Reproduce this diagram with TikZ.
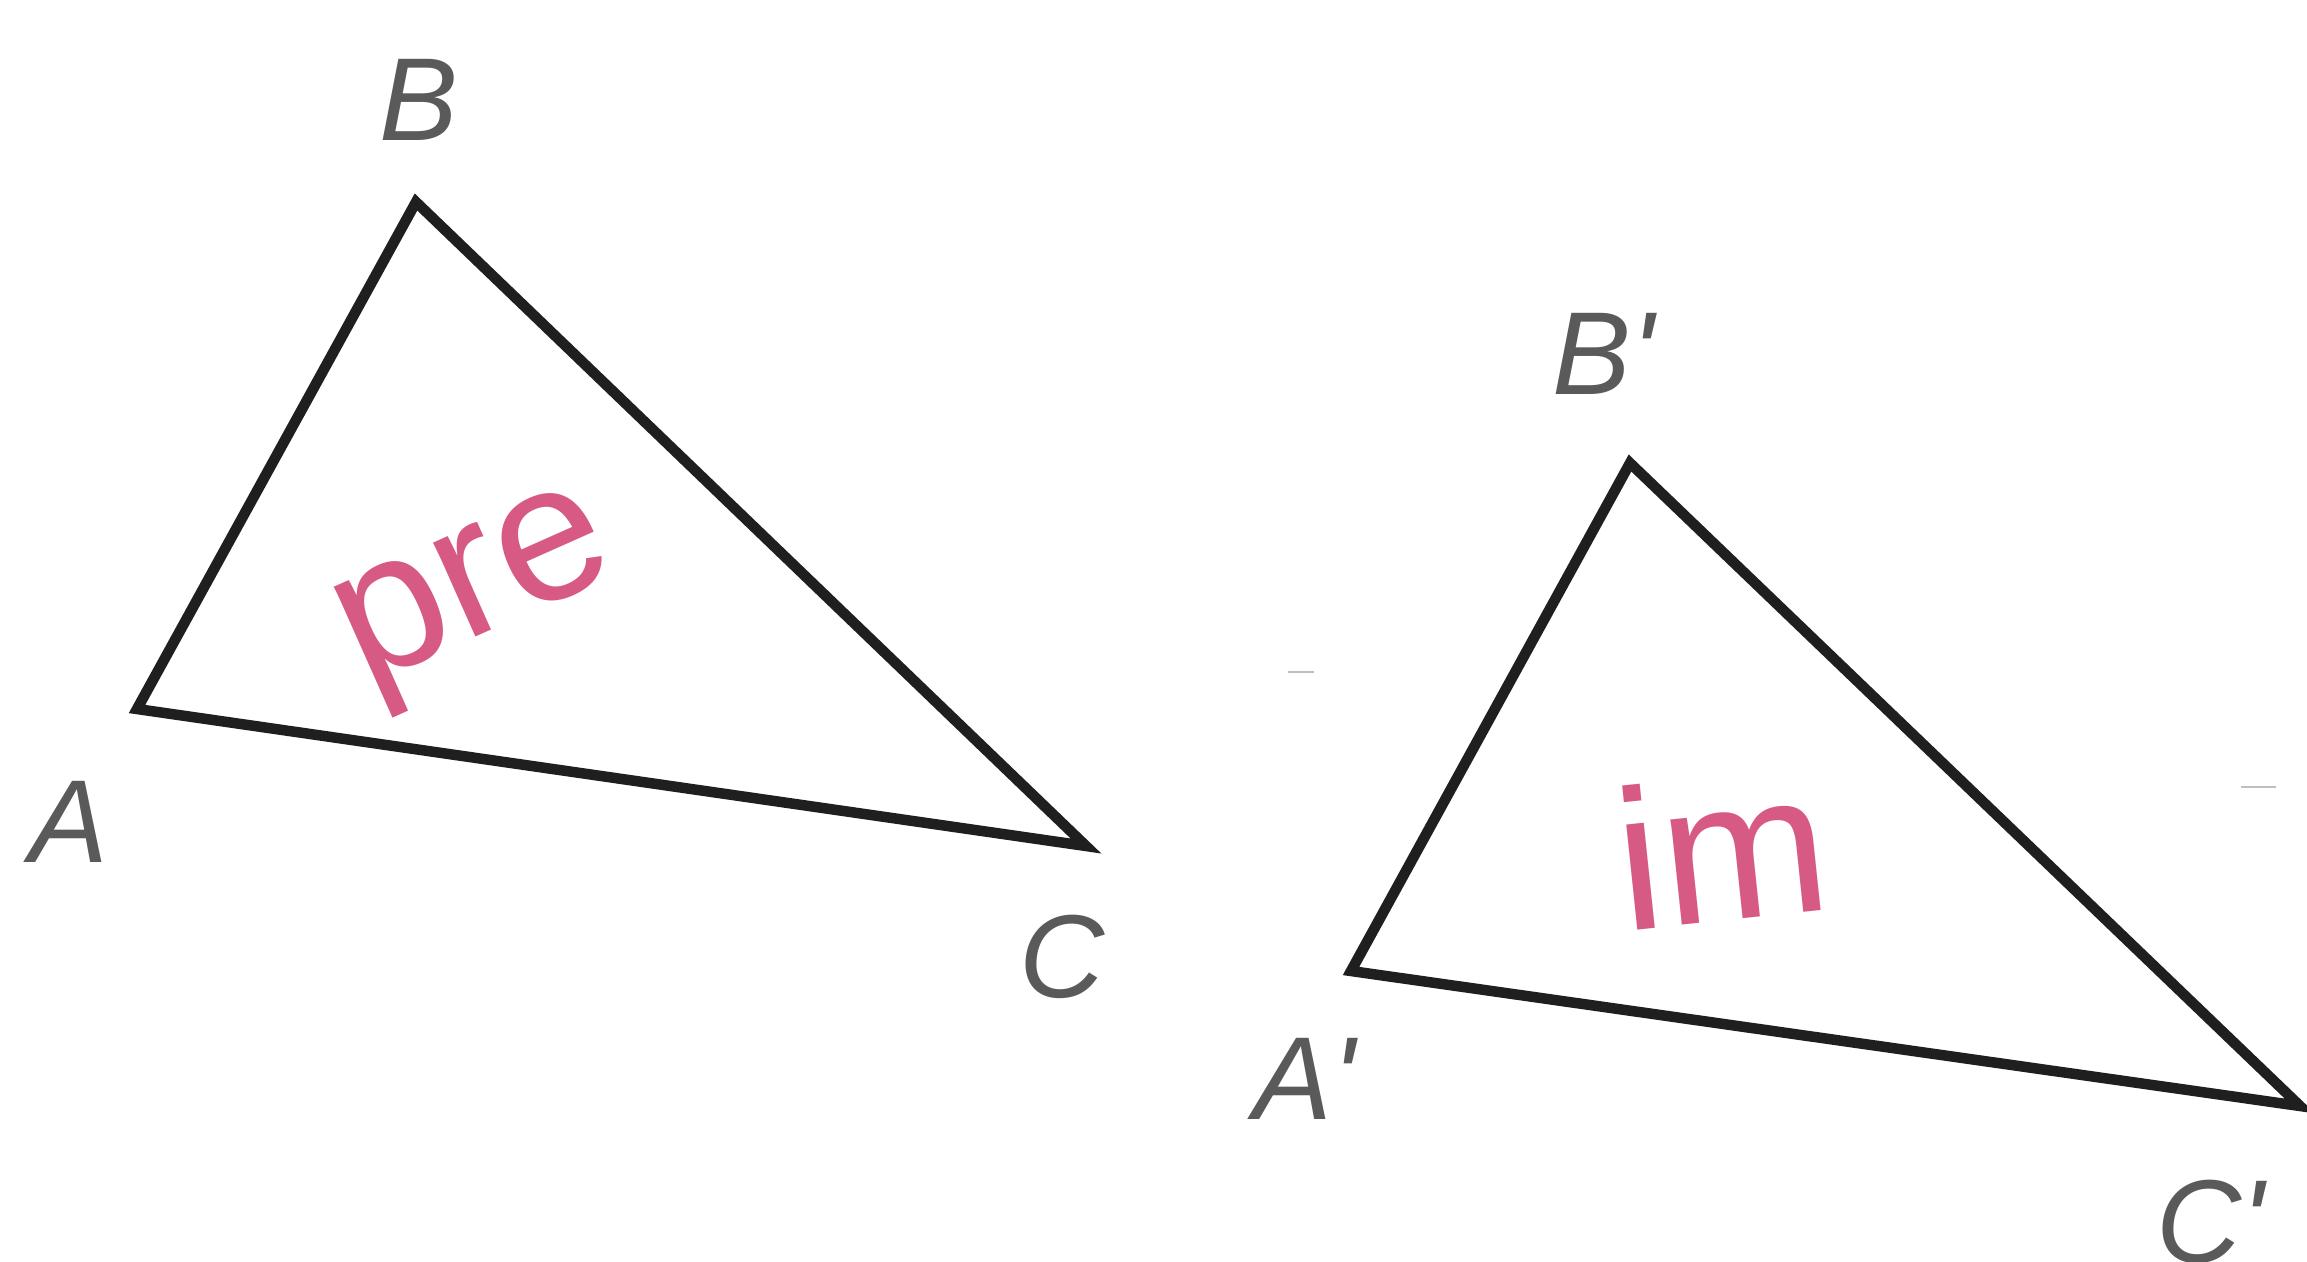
\documentclass[tikz,border=0pt]{standalone}
\usepackage{fontspec}
\setmainfont{Liberation Sans}
\definecolor{inkpink}{RGB}{214,90,132}
\definecolor{labelgray}{RGB}{90,90,90}
\begin{document}
\begin{tikzpicture}[x=1pt,y=-1pt,
  tri/.style={line width=10.5pt,line join=miter,draw=black!88},
  vlabel/.style={text=labelgray,font=\fontsize{118}{130}\selectfont\itshape,inner sep=0pt},
  hand/.style={text=inkpink,inner sep=0pt},
  speck/.style={line width=2pt,draw=black!25}]
\useasboundingbox[fill=white] (0,0) rectangle (2307,1261);
% pre-image
\coordinate (A) at (137,709);
\coordinate (B) at (416,202);
\coordinate (C) at (1086,846);
\draw[tri] (A) -- (B) -- (C) -- cycle;
\node[vlabel] (lB) at (419,100) {B};
\node[vlabel] (lA) at (69,822) {A};
\node[vlabel] (lC) at (1062,957) {C};
\node[hand,rotate=24,font=\fontsize{195}{210}\selectfont] (pre) at (480,600) {pre};
% image
\coordinate (A2) at (1351,971);
\coordinate (B2) at (1630,463);
\coordinate (C2) at (2300,1106);
\draw[tri] (A2) -- (B2) -- (C2) -- cycle;
\node[vlabel] (lB2) at (1603,354) {B\textquotesingle};
\node[vlabel] (lA2) at (1304,1079) {A\textquotesingle};
\node[vlabel] (lC2) at (2210,1222) {C\textquotesingle};
\node[hand,rotate=6,font=\fontsize{200}{215}\selectfont] (im) at (1722,848) {im};
% specks
\coordinate (s1a) at (1288,672); \coordinate (s1b) at (1314,672);
\coordinate (s2a) at (2241,787); \coordinate (s2b) at (2276,787);
\draw[speck] (s1a) -- (s1b);
\draw[speck] (s2a) -- (s2b);
\end{tikzpicture}
\end{document}
